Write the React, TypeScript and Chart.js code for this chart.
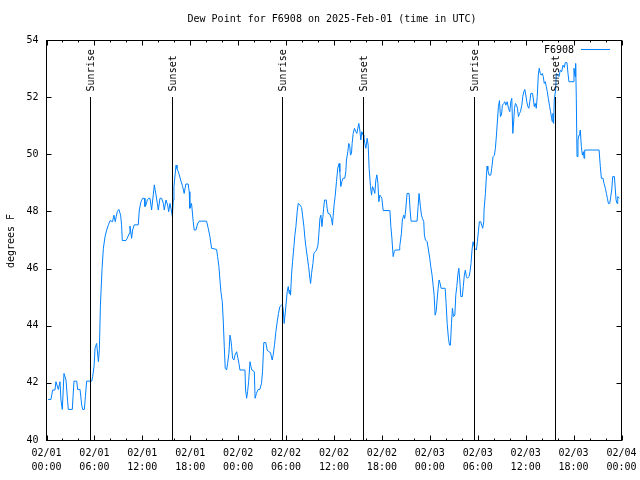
import { useEffect, useRef } from 'react';
import { Chart, registerables } from 'chart.js';

Chart.register(...registerables);

const TITLE = 'Dew Point for F6908 on 2025-Feb-01 (time in UTC)';
const SERIES_NAME = 'F6908';
const Y_LABEL = 'degrees F';
const FONT = "'DejaVu Sans Mono', monospace";
const LINE_COLOR = 'rgb(0,128,255)';

// hours since 2025-02-01 00:00 UTC
const hours = [
  0.2, 0.56, 0.77, 1.06, 1.18, 1.48, 1.69, 1.81, 1.98, 2.19, 2.44, 2.65, 2.73, 3.23, 3.44, 3.78, 3.9, 4.2, 4.41, 4.53,
  4.74, 4.87, 5.03, 5.66, 5.78, 5.95, 6.08, 6.28, 6.5, 6.62, 6.75, 6.96, 7.12, 7.33, 7.54, 7.75, 7.96, 8.27, 8.44, 8.61,
  8.73, 8.86, 9.06, 9.28, 9.4, 9.49, 9.95, 10.11, 10.36, 10.45, 10.66, 10.78, 10.99, 11.49, 11.62, 11.83, 12.04, 12.25, 12.33, 12.45,
  12.62, 12.79, 12.96, 13.16, 13.37, 13.5, 13.71, 13.88, 14.0, 14.21, 14.42, 14.63, 14.75, 14.96, 15.17, 15.3, 15.46, 15.63, 15.76, 15.88,
  15.96, 16.22, 16.34, 16.51, 16.8, 17.05, 17.24, 17.45, 17.74, 17.87, 17.95, 18.16, 18.24, 18.37, 18.5, 18.71, 18.91, 19.12, 20.04, 20.25,
  20.46, 20.67, 21.3, 21.42, 21.59, 21.72, 21.84, 22.01, 22.13, 22.26, 22.38, 22.55, 22.68, 22.84, 22.97, 23.09, 23.18, 23.3, 23.47, 23.6,
  23.81, 23.97, 24.1, 24.22, 24.85, 24.93, 25.06, 25.18, 25.31, 25.48, 25.6, 25.73, 26.02, 26.12, 26.29, 26.5, 26.71, 26.92, 27.05, 27.21,
  27.46, 27.63, 27.84, 28.05, 28.26, 28.38, 28.55, 28.72, 28.89, 29.05, 29.22, 29.43, 29.57, 29.64, 29.76, 29.93, 30.14, 30.27, 30.39, 30.47,
  30.56, 30.68, 30.81, 30.98, 31.1, 31.23, 31.39, 31.52, 31.73, 31.94, 32.06, 32.23, 32.36, 32.48, 32.65, 32.82, 32.98, 33.07, 33.19, 33.36,
  33.48, 33.65, 33.82, 33.99, 34.11, 34.24, 34.36, 34.49, 34.61, 34.7, 34.82, 35.03, 35.14, 35.26, 35.47, 35.68, 35.81, 35.89, 36.01, 36.14,
  36.31, 36.47, 36.64, 36.73, 36.85, 36.98, 37.14, 37.35, 37.48, 37.56, 37.73, 37.85, 37.98, 38.06, 38.19, 38.27, 38.4, 38.56, 38.73, 38.86,
  38.98, 39.11, 39.23, 39.36, 39.48, 39.65, 39.74, 39.86, 39.99, 40.15, 40.28, 40.4, 40.57, 40.7, 40.82, 40.99, 41.11, 41.24, 41.37, 41.5,
  41.62, 41.74, 41.87, 41.99, 42.16, 43.0, 43.12, 43.25, 43.41, 43.54, 43.66, 44.17, 44.23, 44.44, 44.56, 44.73, 44.85, 44.98, 45.15, 45.4,
  45.53, 45.65, 46.4, 46.53, 46.65, 46.82, 46.95, 47.08, 47.24, 47.32, 47.45, 47.66, 47.83, 47.99, 48.12, 48.28, 48.41, 48.54, 48.66, 48.79,
  48.91, 49.04, 49.16, 49.29, 49.41, 49.92, 50.04, 50.17, 50.33, 50.46, 50.58, 50.71, 50.83, 50.96, 51.13, 51.25, 51.38, 51.5, 51.63, 51.75,
  51.88, 52.07, 52.19, 52.32, 52.45, 52.57, 52.7, 52.91, 53.03, 53.16, 53.28, 53.41, 53.62, 53.83, 53.95, 54.08, 54.2, 54.37, 54.49, 54.62,
  54.75, 54.79, 54.96, 55.09, 55.17, 55.26, 55.42, 55.63, 55.75, 55.92, 56.09, 56.21, 56.34, 56.47, 56.59, 56.72, 56.84, 56.97, 57.09, 57.26,
  57.39, 57.51, 57.68, 57.85, 58.01, 58.14, 58.26, 58.39, 58.47, 58.6, 58.72, 58.85, 58.97, 59.1, 59.22, 59.35, 59.52, 59.64, 59.77, 59.89,
  60.02, 60.14, 60.27, 60.4, 60.52, 60.65, 60.86, 60.98, 61.08, 61.2, 61.33, 61.45, 61.58, 61.7, 61.83, 61.95, 62.08, 62.2, 62.33, 62.46,
  62.58, 62.71, 62.83, 63.0, 63.12, 63.25, 63.33, 63.41, 63.5, 63.58, 63.75, 63.84, 64.0, 64.17, 64.34, 64.51, 64.67, 64.84, 64.96, 65.17,
  65.3, 65.42, 65.93, 66.05, 66.18, 66.26, 66.34, 66.43, 66.55, 66.68, 66.76, 66.84, 66.97, 67.1, 67.23, 67.31, 67.39, 69.19, 69.35, 69.48,
  69.69, 69.81, 69.98, 70.11, 70.23, 70.36, 70.53, 70.65, 70.78, 70.9, 71.11, 71.23, 71.32, 71.44, 71.53, 71.73,
];

// dew point, degrees F
const dewPoint = [
  41.42, 41.42, 41.75, 41.75, 42.04, 41.77, 42.04, 41.4, 41.07, 42.33, 42.1, 41.34, 41.07, 41.07, 42.06, 42.06, 41.77, 41.77, 41.22, 41.07,
  41.07, 41.52, 42.06, 42.06, 42.22, 42.57, 43.21, 43.38, 42.74, 43.17, 44.72, 46.01, 46.71, 47.12, 47.35, 47.53, 47.68, 47.64, 47.87, 47.64,
  47.82, 47.99, 48.07, 47.87, 47.53, 46.98, 46.98, 47.06, 47.23, 47.49, 47.06, 47.35, 47.53, 47.53, 48.05, 48.34, 48.46, 48.46, 48.17, 48.22,
  48.4, 48.46, 48.46, 48.05, 48.58, 48.93, 48.58, 48.28, 48.05, 48.46, 48.46, 48.28, 48.05, 48.4, 48.22, 47.99, 48.28, 48.05, 47.82, 48.4,
  48.87, 49.62, 49.5, 49.39, 49.1, 48.87, 48.63, 48.96, 48.96, 48.69, 48.11, 48.28, 48.05, 47.64, 47.35, 47.35, 47.56, 47.66, 47.66, 47.41,
  47.12, 46.71, 46.67, 46.42, 46.07, 45.6, 45.19, 44.84, 44.2, 43.27, 42.51, 42.45, 42.68, 43.03, 43.67, 43.5, 43.27, 42.86, 42.8, 42.97,
  43.09, 42.86, 42.68, 42.45, 42.45, 41.75, 41.46, 41.69, 42.04, 42.74, 42.57, 42.45, 42.39, 41.46, 41.63, 41.77, 41.77, 41.98, 42.39, 43.41,
  43.41, 43.15, 43.09, 43.06, 42.8, 42.97, 43.33, 43.79, 44.14, 44.43, 44.67, 44.72, 44.69, 44.55, 44.08, 44.55, 45.19, 45.37, 45.13, 45.25,
  45.07, 45.77, 46.24, 46.77, 47.17, 47.47, 47.99, 48.28, 48.23, 48.14, 47.87, 47.47, 47.06, 46.77, 46.42, 46.07, 45.66, 45.48, 45.83, 46.18,
  46.53, 46.59, 46.65, 46.82, 47.23, 47.76, 47.87, 47.47, 47.82, 48.11, 48.4, 48.4, 48.11, 47.93, 47.91, 47.76, 47.52, 47.82, 48.22, 48.52,
  49.04, 49.51, 49.68, 49.39, 48.87, 49.04, 49.16, 49.16, 49.39, 49.8, 50.09, 50.38, 50.27, 49.97, 50.03, 50.38, 50.73, 50.91, 50.79, 50.73,
  50.91, 51.08, 50.85, 50.5, 50.79, 50.67, 50.62, 50.38, 50.21, 50.56, 50.32, 49.51, 48.87, 48.57, 48.87, 48.75, 48.63, 49.1, 49.28, 48.98,
  48.34, 48.57, 48.52, 48.46, 48.03, 48.03, 47.47, 47.06, 46.42, 46.59, 46.65, 46.65, 46.77, 47.23, 47.7, 47.87, 47.75, 48.05, 48.63, 48.63,
  48.05, 47.66, 47.66, 48.17, 48.63, 48.17, 47.87, 47.75, 47.64, 47.17, 47.0, 46.94, 46.65, 46.36, 46.07, 45.77, 45.42, 45.07, 44.37, 44.49,
  44.9, 45.31, 45.6, 45.48, 45.31, 45.31, 44.78, 44.08, 43.56, 43.32, 43.32, 44.08, 44.61, 44.32, 44.37, 45.07, 45.37, 45.77, 46.01, 45.6,
  45.02, 45.02, 45.37, 45.77, 45.95, 45.72, 45.66, 45.72, 45.89, 46.18, 46.65, 46.94, 46.71, 46.65, 46.94, 47.29, 47.64, 47.64, 47.52, 47.41,
  47.64, 48.05, 48.63, 49.27, 49.59, 49.45, 49.27, 49.27, 49.51, 49.92, 49.97, 50.21, 50.67, 51.2, 51.67, 51.88, 51.32, 51.38, 51.72, 51.78,
  51.84, 51.72, 51.84, 51.61, 51.49, 51.84, 51.96, 50.73, 51.02, 51.61, 51.78, 51.72, 51.61, 51.32, 51.43, 51.49, 51.72, 52.02, 52.19, 52.27,
  52.07, 51.84, 51.67, 51.61, 51.84, 52.13, 52.13, 51.9, 51.67, 51.78, 51.61, 52.02, 52.77, 53.01, 52.83, 52.77, 52.83, 52.72, 52.48, 52.54,
  52.37, 52.19, 51.96, 51.67, 51.49, 51.26, 51.14, 51.43, 51.08, 51.9, 52.25, 52.83, 52.77, 52.72, 52.95, 52.89, 53.12, 53.04, 53.21, 53.21,
  52.83, 52.54, 52.54, 53.01, 52.72, 53.18, 51.96, 49.92, 50.5, 50.67, 50.73, 50.85, 50.27, 49.97, 50.09, 49.86, 50.15, 50.15, 49.57, 49.16,
  49.16, 48.98, 48.81, 48.63, 48.46, 48.28, 48.28, 48.52, 48.75, 49.22, 49.22, 48.75, 48.4, 48.28, 48.52, 48.46,
];

const sunriseHours = [5.48, 29.54, 53.5];
const sunsetHours = [15.74, 39.65, 63.68];

const xTickDates = ['02/01', '02/01', '02/01', '02/01', '02/02', '02/02', '02/02', '02/02', '02/03', '02/03', '02/03', '02/03', '02/04'];
const xTickTimes = ['00:00', '06:00', '12:00', '18:00', '00:00', '06:00', '12:00', '18:00', '00:00', '06:00', '12:00', '18:00', '00:00'];

const X_MIN = 0;
const X_MAX = 72;
const X_MAJOR = 6;
const X_MINOR = 2;
const Y_MIN = 40;
const Y_MAX = 54;
const Y_STEP = 2;
const SUN_LINE_TOP = 52;
const SUN_LABEL_BASE = 52.2;

const decorPlugin = {
  id: 'gnuplotDecor',
  afterDraw(chart: any) {
    const ctx = chart.ctx as CanvasRenderingContext2D;
    const { left, right, top, bottom } = chart.chartArea;
    const xs = chart.scales.x;
    const ys = chart.scales.y;
    const L = Math.floor(left) + 0.5;
    const R = Math.floor(right) + 0.5;
    const T = Math.floor(top) + 0.5;
    const B = Math.floor(bottom) + 0.5;
    ctx.save();
    ctx.strokeStyle = '#000';
    ctx.lineWidth = 1;
    ctx.fillStyle = '#000';

    // ticks (inward, mirrored on opposite axes)
    ctx.beginPath();
    for (let h = X_MIN; h <= X_MAX; h += X_MINOR) {
      const px = Math.round(xs.getPixelForValue(h)) + 0.5;
      const len = h % X_MAJOR === 0 ? 5 : 2;
      ctx.moveTo(px, B);
      ctx.lineTo(px, B - len);
      ctx.moveTo(px, T);
      ctx.lineTo(px, T + len);
    }
    for (let v = Y_MIN; v <= Y_MAX; v += Y_STEP) {
      const py = Math.round(ys.getPixelForValue(v)) + 0.5;
      ctx.moveTo(L, py);
      ctx.lineTo(L + 5, py);
      ctx.moveTo(R, py);
      ctx.lineTo(R - 5, py);
    }
    ctx.stroke();

    // frame
    ctx.strokeRect(L, T, R - L, B - T);

    // sunrise / sunset markers
    ctx.font = `10px ${FONT}`;
    const drawSun = (h: number, label: string) => {
      const px = Math.round(xs.getPixelForValue(h)) + 0.5;
      ctx.beginPath();
      ctx.moveTo(px, Math.round(ys.getPixelForValue(SUN_LINE_TOP)));
      ctx.lineTo(px, B);
      ctx.stroke();
      ctx.save();
      ctx.translate(px + 1, ys.getPixelForValue(SUN_LABEL_BASE));
      ctx.rotate(-Math.PI / 2);
      ctx.textAlign = 'left';
      ctx.textBaseline = 'middle';
      ctx.fillText(label, 0, 0);
      ctx.restore();
    };
    sunriseHours.forEach((h) => drawSun(h, 'Sunrise'));
    sunsetHours.forEach((h) => drawSun(h, 'Sunset'));

    // title
    ctx.textAlign = 'center';
    ctx.textBaseline = 'middle';
    ctx.fillText(TITLE, 332, 19);

    // y axis label
    ctx.save();
    ctx.translate(11, 241);
    ctx.rotate(-Math.PI / 2);
    ctx.textAlign = 'center';
    ctx.textBaseline = 'middle';
    ctx.fillText(Y_LABEL, 0, 0);
    ctx.restore();

    // legend
    ctx.textAlign = 'right';
    ctx.textBaseline = 'middle';
    ctx.fillText(SERIES_NAME, 574, 50);
    ctx.strokeStyle = LINE_COLOR;
    ctx.beginPath();
    ctx.moveTo(581, 49.5);
    ctx.lineTo(610, 49.5);
    ctx.stroke();

    ctx.restore();
  },
};

export default function App() {
  const canvasRef = useRef<HTMLCanvasElement | null>(null);

  useEffect(() => {
    const canvas = canvasRef.current;
    if (!canvas) return;
    const points = hours.map((h, i) => ({ x: h, y: dewPoint[i] }));
    const chart = new Chart(canvas, {
      type: 'line',
      data: {
        datasets: [
          {
            label: SERIES_NAME,
            data: points,
            borderColor: LINE_COLOR,
            backgroundColor: LINE_COLOR,
            borderWidth: 1,
            pointRadius: 0,
            tension: 0,
            fill: false,
          },
        ],
      },
      options: {
        responsive: false,
        maintainAspectRatio: false,
        animation: false,
        devicePixelRatio: 1,
        layout: { padding: { top: 40, right: 18.5, bottom: 0, left: 0 } },
        plugins: {
          legend: { display: false },
          title: { display: false },
          tooltip: { enabled: false },
        },
        scales: {
          x: {
            type: 'linear',
            min: X_MIN,
            max: X_MAX,
            grid: { display: false, drawTicks: false },
            border: { display: false },
            afterFit: (s: any) => {
              s.height = 40;
              s.paddingLeft = 0;
              s.paddingRight = 0;
            },
            afterBuildTicks: (s: any) => {
              const t = [];
              for (let v = X_MIN; v <= X_MAX; v += X_MAJOR) t.push({ value: v });
              s.ticks = t;
            },
            ticks: {
              autoSkip: false,
              maxRotation: 0,
              minRotation: 0,
              padding: 6,
              color: '#000',
              font: { family: FONT, size: 10, lineHeight: 1.4 },
              callback: (v: any) => {
                const i = Math.round(Number(v) / X_MAJOR);
                return [xTickDates[i], xTickTimes[i]];
              },
            },
          },
          y: {
            type: 'linear',
            min: Y_MIN,
            max: Y_MAX,
            grid: { display: false, drawTicks: false },
            border: { display: false },
            afterFit: (s: any) => {
              s.width = 46.5;
              s.paddingTop = 0;
              s.paddingBottom = 0;
            },
            ticks: {
              stepSize: Y_STEP,
              padding: 8,
              color: '#000',
              font: { family: FONT, size: 10 },
              callback: (v: any) => String(v),
            },
          },
        },
      },
      plugins: [decorPlugin],
    });
    return () => chart.destroy();
  }, []);

  return (
    <div style={{ position: 'absolute', left: 0, top: 0, width: 640, height: 480, background: '#fff' }}>
      <canvas ref={canvasRef} width={640} height={480} style={{ display: 'block', width: 640, height: 480 }} />
    </div>
  );
}
